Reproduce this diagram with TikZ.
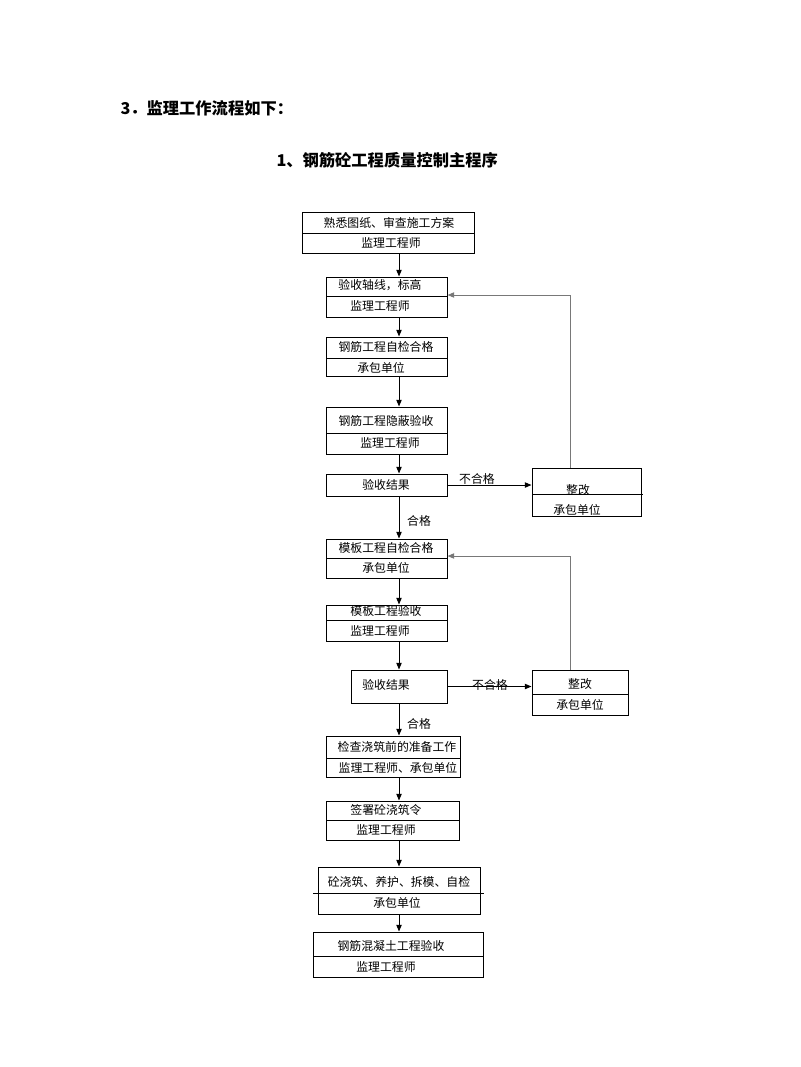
\documentclass[tikz,border=0pt]{standalone}
\usepackage{fontspec}
\newfontfamily\cjk{Noto Sans CJK SC}
\usetikzlibrary{arrows.meta,fit}

\tikzset{every picture/.style={line width=0.75pt}}
\tikzset{
  box/.style={draw, inner sep=0pt, fit={#1}},
  lbl/.style={font=\cjk\fontsize{8.9}{10}\selectfont, inner sep=0pt},
  ttl/.style={font=\cjk\bfseries\fontsize{12.2}{14}\selectfont, inner sep=0pt, anchor=west},
  arr/.style={-{Triangle[length=5pt,width=4pt]}},
  back/.style={arr, color={rgb, 255:red, 120; green, 120; blue, 120}}
}

\begin{document}
\begin{tikzpicture}[x=0.75pt,y=0.75pt,yscale=-1,xscale=1]
	\useasboundingbox (0,0) rectangle (800,1067);
	\coordinate (spine) at (399,0);

	% Text Node
	\node[ttl] (head) at (120,108) {3．监理工作流程如下：};
	% Text Node
	\node[ttl] (title) at (276,160) {1、钢筋砼工程质量控制主程序};

	%Shape: Rectangle [id:b1]
	\node[box={(302,212) (474,253)}] (b1) {};
	\draw (302,233) -- (474,233) ;
	\node[lbl] (b1a) at (389,223) {熟悉图纸、审查施工方案};
	\node[lbl] (b1b) at (391,243) {监理工程师};

	%Shape: Rectangle [id:b2]
	\node[box={(326,277) (447,317)}] (b2) {};
	\draw (326,296) -- (447,296) ;
	\node[lbl] (b2a) at (380,285) {验收轴线，标高};
	\node[lbl] (b2b) at (380,306) {监理工程师};

	%Shape: Rectangle [id:b3]
	\node[box={(326,337) (447,376)}] (b3) {};
	\draw (326,358) -- (447,358) ;
	\node[lbl] (b3a) at (386,347) {钢筋工程自检合格};
	\node[lbl] (b3b) at (381,368) {承包单位};

	%Shape: Rectangle [id:b4]
	\node[box={(326,407) (447,454)}] (b4) {};
	\draw (326,433) -- (447,433) ;
	\node[lbl] (b4a) at (386,421) {钢筋工程隐蔽验收};
	\node[lbl] (b4b) at (390,443) {监理工程师};

	%Shape: Rectangle [id:b5]
	\node[box={(326,474) (447,496)}] (b5) {};
	\node[lbl] (b5a) at (386,485) {验收结果};

	%Shape: Rectangle [id:r1]
	\node[box={(532,468) (641,516)}] (r1) {};
	\draw (532,494) -- (643,494) ;
	\node[lbl] (r1a) at (578,490) {整改};
	\node[lbl] (r1b) at (577,510) {承包单位};

	%Shape: Rectangle [id:b6]
	\node[box={(326,539) (447,578)}] (b6) {};
	\draw (326,558) -- (447,558) ;
	\node[lbl] (b6a) at (386,548) {模板工程自检合格};
	\node[lbl] (b6b) at (386,568) {承包单位};

	%Shape: Rectangle [id:b7]
	\node[box={(326,605) (447,641)}] (b7) {};
	\draw (326,620) -- (447,620) ;
	\node[lbl] (b7a) at (386,611) {模板工程验收};
	\node[lbl] (b7b) at (380,631) {监理工程师};

	%Shape: Rectangle [id:b8]
	\node[box={(351,670) (447,703)}] (b8) {};
	\node[lbl] (b8a) at (386,685) {验收结果};

	%Shape: Rectangle [id:r2]
	\node[box={(532,670) (628,715)}] (r2) {};
	\draw (532,694) -- (628,694) ;
	\node[lbl] (r2a) at (580,684) {整改};
	\node[lbl] (r2b) at (580,705) {承包单位};

	%Shape: Rectangle [id:b9]
	\node[box={(326,736) (460,777)}] (b9) {};
	\draw (326,758) -- (460,758) ;
	\node[lbl] (b9a) at (397,747) {检查浇筑前的准备工作};
	\node[lbl] (b9b) at (398,768) {监理工程师、承包单位};

	%Shape: Rectangle [id:b10]
	\node[box={(326,801) (459,840)}] (b10) {};
	\draw (326,820) -- (459,820) ;
	\node[lbl] (b10a) at (386,810) {签署砼浇筑令};
	\node[lbl] (b10b) at (386,830) {监理工程师};

	%Shape: Rectangle [id:b11]
	\node[box={(318,867) (480,914)}] (b11) {};
	\draw (313,893) -- (484,893) ;
	\node[lbl] (b11a) at (399,882) {砼浇筑、养护、拆模、自检};
	\node[lbl] (b11b) at (397,903) {承包单位};

	%Shape: Rectangle [id:b12]
	\node[box={(313,932) (483,977)}] (b12) {};
	\draw (313,956) -- (483,956) ;
	\node[lbl] (b12a) at (391,946) {钢筋混凝土工程验收};
	\node[lbl] (b12b) at (386,967) {监理工程师};

	%Straight Lines [main flow]
	\draw[arr] (b1.south -| spine) -- (b2.north -| spine) ;
	\draw[arr] (b2.south -| spine) -- (b3.north -| spine) ;
	\draw[arr] (b3.south -| spine) -- (b4.north -| spine) ;
	\draw[arr] (b4.south -| spine) -- (b5.north -| spine) ;
	\draw[arr] (b5.south -| spine) -- (b6.north -| spine) ;
	\draw[arr] (b6.south -| spine) -- (b7.north -| spine) ;
	\draw[arr] (b7.south -| spine) -- (b8.north -| spine) ;
	\draw[arr] (b8.south -| spine) -- (b9.north -| spine) ;
	\draw[arr] (b9.south -| spine) -- (b10.north -| spine) ;
	\draw[arr] (b10.south -| spine) -- (b11.north -| spine) ;
	\draw[arr] (b11.south -| spine) -- (b12.north -| spine) ;

	%Straight Lines [rejects]
	\draw[arr] (b5.east) -- (b5.east -| r1.west) ;
	\draw[arr] (b8.east) -- (b8.east -| r2.west) ;
	%Straight Lines [feedback]
	\coordinate (up1) at (570,295);
	\coordinate (up2) at (570,556);
	\draw[back] (r1.north -| up1) -- (up1) -- (up1 -| b2.east) ;
	\draw[back] (r2.north -| up2) -- (up2) -- (up2 -| b6.east) ;

	% Text Node
	\node[lbl] (no1) at (477,479) {不合格};
	% Text Node
	\node[lbl] (ok1) at (419,521) {合格};
	% Text Node
	\node[lbl] (no2) at (490,685) {不合格};
	% Text Node
	\node[lbl] (ok2) at (419,724) {合格};

\end{tikzpicture}
\end{document}
